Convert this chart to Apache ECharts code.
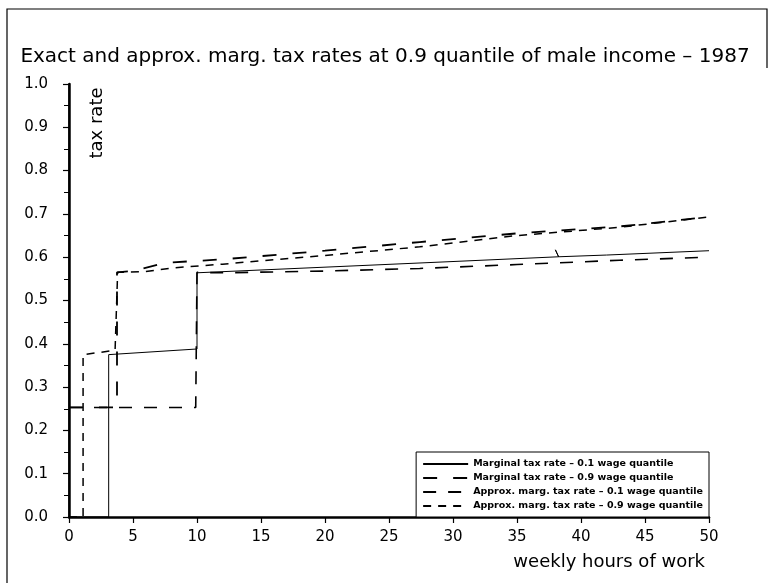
<!DOCTYPE html>
<html>
<head>
<meta charset="utf-8">
<script src="https://cdn.jsdelivr.net/npm/echarts@6/dist/echarts.min.js"></script>
<style>html,body{margin:0;padding:0;background:#fff}#c{width:770px;height:583px}</style>
</head>
<body>
<div id="c"></div>
<script>
// ---- data ----
const xTicks = [0, 5, 10, 15, 20, 25, 30, 35, 40, 45, 50];
const yTicks = [0.0, 0.1, 0.2, 0.3, 0.4, 0.5, 0.6, 0.7, 0.8, 0.9, 1.0];

const exact01Hours = [0, 3.1, 3.1, 10.0, 10.0, 20, 30, 38.25, 38.0, 38.25, 42, 50];
const exact01Rates = [0, 0, 0.375, 0.388, 0.564, 0.577, 0.590, 0.601, 0.617, 0.601, 0.605, 0.615];

const exact09Hours = [0, 3.75, 3.75, 5.0, 7.5, 12, 20, 27.4, 35, 43, 50];
const exact09Rates = [0.253, 0.253, 0.565, 0.568, 0.587, 0.595, 0.615, 0.635, 0.655, 0.671, 0.693];

const approx01Hours = [0, 9.9, 10.0, 12, 20, 27.4, 35, 43, 50];
const approx01Rates = [0.253, 0.253, 0.565, 0.564, 0.568, 0.574, 0.583, 0.593, 0.600];

const approx09Hours = [0, 1.1, 1.1, 3.6, 3.8, 6, 8, 12, 20, 27.4, 35, 43, 50];
const approx09Rates = [0, 0, 0.375, 0.385, 0.565, 0.567, 0.575, 0.584, 0.604, 0.624, 0.650, 0.669, 0.693];

const seriesNames = [
  'Marginal tax rate – 0.1 wage quantile',
  'Marginal tax rate – 0.9 wage quantile',
  'Approx. marg. tax rate – 0.1 wage quantile',
  'Approx. marg. tax rate – 0.9 wage quantile'
];
const titleText = 'Exact and approx. marg. tax rates at 0.9 quantile of male income – 1987';
const xName = 'weekly hours of work';
const yName = 'tax rate';

const zip = (xs, ys) => xs.map((x, i) => [x, ys[i]]);
const FONT = 'DejaVu Sans';

const chart = echarts.init(document.getElementById('c'), null, {renderer: 'canvas'});
const mkSeries = (name, data, width, dash) => ({
  name, type: 'line', data, symbol: 'none', showSymbol: false, animation: false,
  xAxisIndex: 0, yAxisIndex: 0,
  itemStyle: {color: '#000'},
  lineStyle: {color: '#000', width, type: dash}
});
chart.setOption({
  animation: false,
  backgroundColor: '#fff',
  title: {
    text: titleText, left: 'center', top: 42,
    textStyle: {fontFamily: FONT, fontSize: 20, fontWeight: 'normal', color: '#000'}
  },
  grid: {left: 69, right: 61, top: 84, bottom: 66},
  legend: {
    orient: 'vertical', right: 61, bottom: 66,
    data: seriesNames,
    itemWidth: 45, itemHeight: 10, itemGap: 4,
    padding: [7, 6, 6, 6],
    itemStyle: {opacity: 0},
    borderColor: '#000', borderWidth: 1, backgroundColor: '#fff',
    textStyle: {fontFamily: FONT, fontSize: 9.5, fontWeight: 'bold', color: '#000'}
  },
  xAxis: [{
    type: 'value', min: 0, max: 50, interval: 5, position: 'bottom',
    name: xName, nameLocation: 'end', nameGap: 0,
    nameTextStyle: {fontFamily: FONT, fontSize: 18, color: '#000', align: 'right', verticalAlign: 'top', padding: [36, 4, 0, 0]},
    axisLine: {lineStyle: {color: '#000', width: 2.5}},
    axisTick: {length: 6, lineStyle: {color: '#000', width: 1.2}},
    axisLabel: {fontFamily: FONT, fontSize: 15, color: '#000', margin: 13},
    splitLine: {show: false}
  }, {
    type: 'value', min: 0, max: 50, interval: 5, position: 'top',
    axisLine: {lineStyle: {color: '#000', width: 1.2}},
    axisTick: {inside: true, length: 5, lineStyle: {color: '#000'}},
    axisLabel: {show: false}, splitLine: {show: false}
  }],
  yAxis: [{
    type: 'value', min: 0, max: 1, interval: 0.1, position: 'left',
    axisLine: {lineStyle: {color: '#000', width: 2.5}},
    axisTick: {length: 6, lineStyle: {color: '#000', width: 1.2}},
    minorTick: {show: true, splitNumber: 2, length: 4, lineStyle: {color: '#000'}},
    axisLabel: {fontFamily: FONT, fontSize: 15, color: '#000', margin: 21,
      formatter: v => v.toFixed(1)},
    splitLine: {show: false}
  }, {
    type: 'value', min: 0, max: 1, interval: 0.05, position: 'right',
    axisLine: {show: true, lineStyle: {color: '#000', width: 1.5}},
    axisTick: {inside: true, length: 5, lineStyle: {color: '#000'}},
    axisLabel: {show: false}, splitLine: {show: false}
  }],
  graphic: [
    {type: 'polyline', shape: {points: [[7, 583], [7, 9], [767, 9], [767, 68]]},
     style: {stroke: '#000', lineWidth: 1.2, fill: null}, silent: true},
    {type: 'text', x: 97, y: 123, rotation: Math.PI / 2,
     style: {text: yName, fontFamily: FONT, fontSize: 18, fill: '#000', align: 'center', verticalAlign: 'middle'}}
  ],
  series: [
    mkSeries(seriesNames[0], zip(exact01Hours, exact01Rates), 1, 'solid'),
    mkSeries(seriesNames[1], zip(exact09Hours, exact09Rates), 1.8, [14, 16]),
    mkSeries(seriesNames[2], zip(approx01Hours, approx01Rates), 1.6, [13, 12]),
    mkSeries(seriesNames[3], zip(approx09Hours, approx09Rates), 1.5, [8, 7])
  ]
});
</script>
</body>
</html>
